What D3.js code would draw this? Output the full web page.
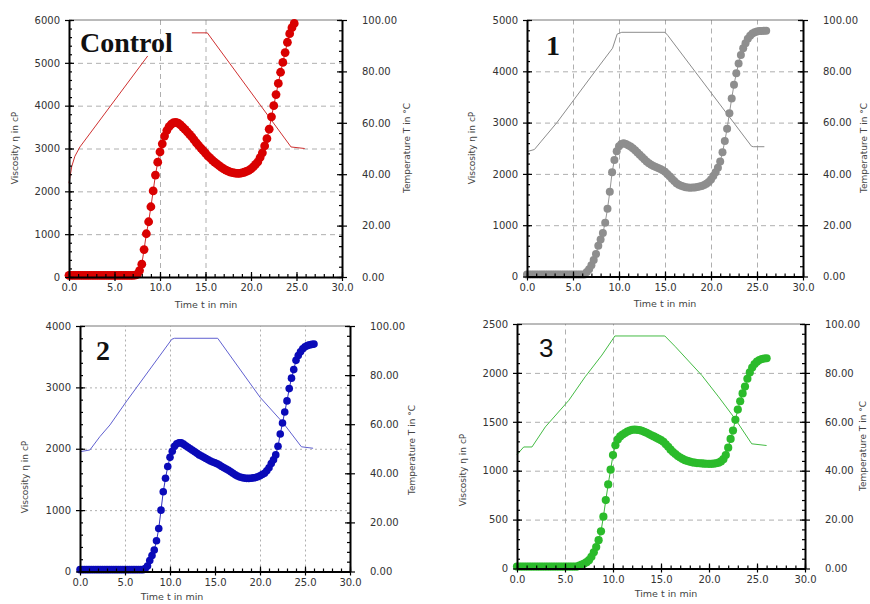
<!DOCTYPE html>
<html><head><meta charset="utf-8">
<script src="https://cdn.jsdelivr.net/npm/d3@7"></script>
<style>body{margin:0;background:#fff} svg{display:block}</style>
</head><body>
<svg id="chart" width="870" height="604"></svg>
<script>
// ---------- DATA ----------
const sampleTimes = [0,0.25,0.5,0.75,1,1.25,1.5,1.75,2,2.25,2.5,2.75,3,3.25,3.5,3.75,4,4.25,4.5,4.75,
5,5.25,5.5,5.75,6,6.25,6.5,6.75,7,7.25,7.5,7.75,8,8.25,8.5,8.75,9,9.25,9.5,9.75,
10,10.25,10.5,10.75,11,11.25,11.5,11.75,12,12.25,12.5,12.75,13,13.25,13.5,13.75,14,14.25,14.5,14.75,
15,15.25,15.5,15.75,16,16.25,16.5,16.75,17,17.25,17.5,17.75,18,18.25,18.5,18.75,19,19.25,19.5,19.75,
20,20.25,20.5,20.75,21,21.25,21.5,21.75,22,22.25,22.5,22.75,23,23.25,23.5,23.75,24,24.25,24.5,24.75,
25,25.25,25.5,25.75,26];

const controlViscosity = [40,40,40,40,40,40,40,40,40,40,40,40,40,40,40,40,40,40,40,40,
40,40,40,40,40,40,40,40,40,45,
60,150,300,640,1010,1290,1640,2010,2380,2680,
2920,3110,3290,3420,3510,3570,3605,3610,3590,3550,
3500,3445,3390,3330,3270,3200,3130,3070,3010,2950,
2890,2830,2780,2730,2680,2640,2600,2560,2525,2495,
2470,2450,2435,2425,2420,2420,2430,2445,2465,2490,
2525,2570,2630,2690,2790,2900,3060,3230,3450,3740,
4000,4260,4520,4780,5010,5240,5480,5680,5820,5920];

const sample1Viscosity = [40,40,40,40,40,40,40,40,40,40,40,40,40,40,40,40,40,40,40,40,
40,40,40,40,40,40,
90,140,220,320,440,600,720,850,1050,1320,
1650,2030,2270,2440,2540,2585,2597,2585,2560,2535,
2500,2460,2415,2375,2330,2285,2240,2210,2180,2155,
2135,2115,2095,2070,2040,2000,1955,1905,1860,1820,
1790,1770,1755,1742,1735,1732,1733,1737,1743,1752,
1765,1785,1810,1840,1890,1960,2030,2120,2240,2420,
2640,2880,3180,3470,3740,3960,4150,4320,4450,4545,
4635,4695,4735,4760,4775,4785,4788,4790,4790];

const sample2Viscosity = [30,30,30,30,30,30,30,30,30,30,30,30,30,30,30,30,30,30,30,30,
30,30,30,30,30,30,30,30,30,
50,90,180,260,350,500,700,1000,1300,1520,
1710,1860,1960,2040,2080,2098,2095,2075,2050,2025,
2000,1975,1950,1925,1900,1880,1860,1840,1820,1800,
1785,1770,1755,1735,1710,1690,1670,1650,1625,1600,
1575,1555,1540,1530,1522,1518,1517,1520,1525,1532,
1545,1560,1580,1600,1640,1690,1760,1820,1900,2040,
2240,2420,2600,2780,2980,3150,3290,3440,3520,3580,
3630,3660,3680,3692,3700,3705];

const sample3Viscosity = [20,20,20,20,20,20,20,20,20,20,20,20,20,20,20,20,20,20,20,20,
20,20,20,20,20,20,
30,40,50,65,85,120,165,220,290,380,
530,700,860,1010,1160,1260,1320,1350,1370,1385,
1400,1410,1418,1420,1418,1415,1408,1398,1388,1375,
1362,1350,1338,1325,1312,1295,1270,1245,1215,1190,
1170,1150,1135,1120,1108,1100,1092,1086,1082,1078,
1076,1074,1072,1071,1070,1070,1072,1076,1082,1095,
1118,1160,1235,1325,1410,1520,1625,1710,1790,1860,
1940,2005,2055,2090,2115,2132,2142,2147,2150];

// temperature profiles (null = gap hidden behind the label)
const controlTempTimes  = [0,0.3,0.65,1.2,8.65,null,13.5,15.2,24.4,25.9];
const controlTempValues = [36.5,43,47,50.6,86,null,95,95,50.6,50];
const sample1TempTimes  = [0,0.8,1.5,3.25,7.4,9.3,9.8,10.3,15.0,15.3,24.4,24.6,25.8];
const sample1TempValues = [48.7,49.5,52.5,60,80,89,94.5,95.2,95.2,94,50.8,50.6,50.6];
const sample2TempTimes  = [0,1.1,2.2,3.33,5.2,10.2,10.5,15.3,20,22.6,24.6,25.9];
const sample2TempValues = [48.8,49.5,54.9,59.7,69.5,94.6,95,95,71,60.4,50.8,50.2];
const sample3TempTimes  = [0,0.7,1.56,2.95,5.4,7.1,8.85,10.2,15.4,16.5,19.25,21,22.7,24.45,26.0];
const sample3TempValues = [46.6,49.7,49.7,57.9,68.8,78.4,87.3,95.1,95.1,90.7,79,70.2,61.3,51,50.3];

// tick labels
const timeTicks = [0,5,10,15,20,25,30];
const tempTicks = [0,20,40,60,80,100];
const controlViscTicks = [0,1000,2000,3000,4000,5000,6000];
const sample1ViscTicks = [0,1000,2000,3000,4000,5000];
const sample2ViscTicks = [0,1000,2000,3000,4000];
const sample3ViscTicks = [0,500,1000,1500,2000,2500];
const controlTimeGrid = [10,15];
const sample1TimeGrid = [5,10,15,20,25];
const sample2TimeGrid = [5,10,20,25];
const sample3TimeGrid = [5,10];
const panelLabels = ["Control","1","2","3"];

// ---------- LAYOUT ----------
const panels = [
  {label:panelLabels[0], x0:69, x1:342, yTop:20, yBot:277, vTicks:controlViscTicks, vMinor:200,
   visc:controlViscosity, tT:controlTempTimes, tV:controlTempValues, grid:controlTimeGrid,
   dot:"#d90000", line:"#cc1010", temp:"#cf3030", r:4.4, dash:"5,4",
   lab:{x:80,y:52,font:"Liberation Serif",weight:"bold",size:28},
   xt:[206,308], lt:[15,148], rt:[407,148]},
  {label:panelLabels[1], x0:527, x1:803, yTop:20, yBot:276.5, vTicks:sample1ViscTicks, vMinor:200,
   visc:sample1Viscosity, tT:sample1TempTimes, tV:sample1TempValues, grid:sample1TimeGrid,
   dot:"#8e8e8e", line:"#8a8a8a", temp:"#8c8c8c", r:4.0, dash:"5,4",
   lab:{x:546,y:55,font:"Liberation Serif",weight:"bold",size:28},
   xt:[665,307], lt:[472,148], rt:[864,148]},
  {label:panelLabels[2], x0:80, x1:350, yTop:326, yBot:571.5, vTicks:sample2ViscTicks, vMinor:200,
   visc:sample2Viscosity, tT:sample2TempTimes, tV:sample2TempValues, grid:sample2TimeGrid,
   dot:"#0a0ab8", line:"#1a1ab8", temp:"#6060d0", r:3.8, dash:"2,3",
   lab:{x:96,y:360,font:"Liberation Serif",weight:"bold",size:28},
   xt:[172,600], lt:[25,477], rt:[412,450]},
  {label:panelLabels[3], x0:517, x1:805, yTop:324, yBot:568.5, vTicks:sample3ViscTicks, vMinor:100,
   visc:sample3Viscosity, tT:sample3TempTimes, tV:sample3TempValues, grid:sample3TimeGrid,
   dot:"#2bbb2b", line:"#22b022", temp:"#44bb44", r:4.1, dash:"5,4",
   lab:{x:539,y:357,font:"Liberation Sans",weight:"normal",size:26},
   xt:[666,597], lt:[463,470], rt:[863,446]}
];

const svg = d3.select("#chart");
const FONT = "DejaVu Sans";

panels.forEach(p => {
  const g = svg.append("g");
  const vMax = p.vTicks[p.vTicks.length-1];
  const x = d3.scaleLinear().domain([0,30]).range([p.x0,p.x1]);
  const y = d3.scaleLinear().domain([0,vMax]).range([p.yBot,p.yTop]);
  const yT = d3.scaleLinear().domain([0,100]).range([p.yBot,p.yTop]);

  // grid
  const hg = g.append("g").attr("transform",`translate(${p.x0},0)`)
    .call(d3.axisLeft(y).tickValues(p.vTicks.slice(1,-1)).tickSize(-(p.x1-p.x0)).tickFormat(""));
  hg.select(".domain").remove();
  const vg = g.append("g").attr("transform",`translate(0,${p.yBot})`)
    .call(d3.axisBottom(x).tickValues(p.grid).tickSize(-(p.yBot-p.yTop)).tickFormat(""));
  vg.select(".domain").remove();
  g.selectAll(".tick line").attr("stroke","#9a9a9a").attr("stroke-width",0.8).attr("stroke-dasharray",p.dash);

  // top border
  g.append("line").attr("x1",p.x0).attr("x2",p.x1).attr("y1",p.yTop).attr("y2",p.yTop)
    .attr("stroke","#777").attr("stroke-width",1);

  // temperature line
  const tData = p.tT.map((t,i)=>({t, v:p.tV[i]}));
  g.append("path").datum(tData)
    .attr("fill","none").attr("stroke",p.temp).attr("stroke-width",1)
    .attr("d", d3.line().defined(d=>d.t!==null && d.v!==null).x(d=>x(d.t)).y(d=>yT(d.v)));

  // viscosity
  const vData = p.visc.map((v,i)=>({t:sampleTimes[i], v}));
  g.append("path").datum(vData)
    .attr("fill","none").attr("stroke",p.line).attr("stroke-width",0.9)
    .attr("d", d3.line().x(d=>x(d.t)).y(d=>y(d.v)));
  g.append("g").selectAll("circle").data(vData).join("circle")
    .attr("cx",d=>x(d.t)).attr("cy",d=>y(d.v)).attr("r",p.r).attr("fill",p.dot);

  // axes
  const styleAxis = (sel, labelled) => {
    sel.attr("font-family",FONT).attr("font-size",10);
    sel.selectAll(".tick line").attr("stroke","#000").attr("stroke-width",1.2);
    sel.selectAll("text").attr("fill","#333");
    if (!labelled) sel.select(".domain").remove();
    else sel.select(".domain").attr("stroke","#000").attr("stroke-width",2);
  };
  const yMinor = d3.range(0, vMax+1, p.vMinor);
  const tMinor = d3.range(0, 101, 4);
  const xMinor = d3.range(0, 31, 1);

  // left
  g.append("g").attr("transform",`translate(${p.x0},0)`)
    .call(d3.axisLeft(y).tickValues(yMinor).tickSize(-3).tickFormat("")).call(s=>styleAxis(s,false));
  g.append("g").attr("transform",`translate(${p.x0},0)`)
    .call(d3.axisLeft(y).tickValues(p.vTicks).tickSize(-5).tickFormat("")).call(s=>styleAxis(s,false));
  g.append("g").attr("transform",`translate(${p.x0},0)`)
    .call(d3.axisLeft(y).tickValues(p.vTicks).tickSize(4).tickSizeOuter(0).tickPadding(5).tickFormat(d3.format("d")))
    .call(s=>styleAxis(s,true));
  // right
  g.append("g").attr("transform",`translate(${p.x1},0)`)
    .call(d3.axisRight(yT).tickValues(tMinor).tickSize(-3).tickFormat("")).call(s=>styleAxis(s,false));
  g.append("g").attr("transform",`translate(${p.x1},0)`)
    .call(d3.axisRight(yT).tickValues(tempTicks).tickSize(-5).tickFormat("")).call(s=>styleAxis(s,false));
  g.append("g").attr("transform",`translate(${p.x1},0)`)
    .call(d3.axisRight(yT).tickValues(tempTicks).tickSize(5).tickSizeOuter(0).tickPadding(15).tickFormat(d3.format(".2f")))
    .call(s=>styleAxis(s,true));
  // bottom
  g.append("g").attr("transform",`translate(0,${p.yBot})`)
    .call(d3.axisBottom(x).tickValues(xMinor).tickSize(-3).tickFormat("")).call(s=>styleAxis(s,false));
  g.append("g").attr("transform",`translate(0,${p.yBot})`)
    .call(d3.axisBottom(x).tickValues(timeTicks).tickSize(-5).tickFormat("")).call(s=>styleAxis(s,false));
  g.append("g").attr("transform",`translate(0,${p.yBot})`)
    .call(d3.axisBottom(x).tickValues(timeTicks).tickSize(4).tickSizeOuter(0).tickPadding(3).tickFormat(d3.format(".1f")))
    .call(s=>styleAxis(s,true));

  // titles
  g.append("text").attr("x",p.xt[0]).attr("y",p.xt[1]).attr("text-anchor","middle")
    .attr("font-family",FONT).attr("font-size",9.5).attr("fill","#444").text("Time t in min");
  g.append("text").attr("transform",`translate(${p.lt[0]},${p.lt[1]}) rotate(-90)`)
    .attr("text-anchor","middle").attr("dominant-baseline","central")
    .attr("font-family",FONT).attr("font-size",9).attr("fill","#444").text("Viscosity η in cP");
  g.append("text").attr("transform",`translate(${p.rt[0]},${p.rt[1]}) rotate(-90)`)
    .attr("text-anchor","middle").attr("dominant-baseline","central")
    .attr("font-family",FONT).attr("font-size",9).attr("fill","#444").text("Temperature T in °C");

  // panel label
  g.append("text").attr("x",p.lab.x).attr("y",p.lab.y)
    .attr("font-family",p.lab.font).attr("font-weight",p.lab.weight).attr("font-size",p.lab.size)
    .attr("fill","#111").text(p.label);
});
</script>
</body></html>
